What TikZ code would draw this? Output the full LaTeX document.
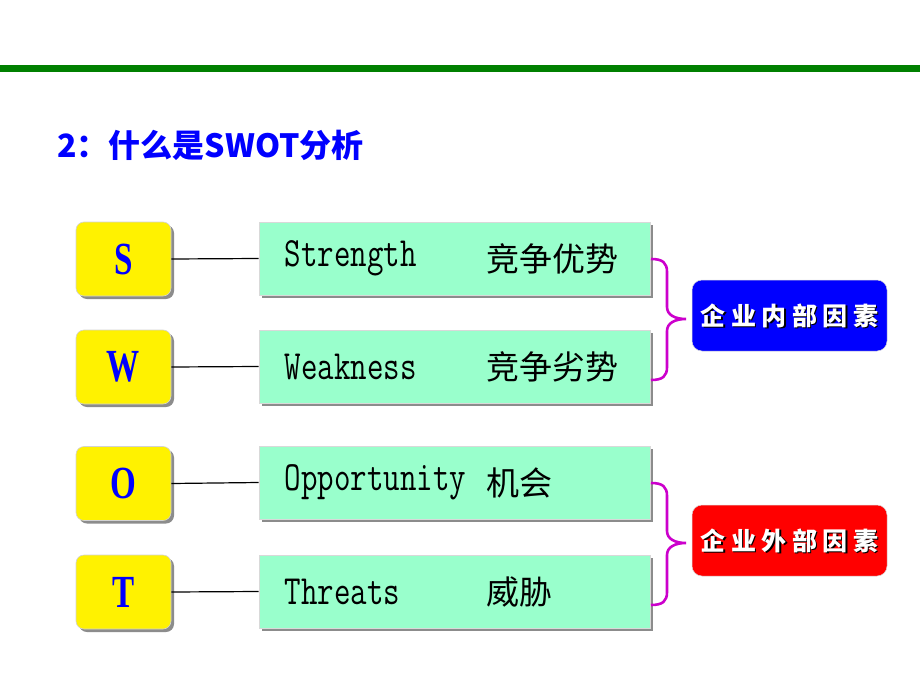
\documentclass[tikz,border=0pt]{standalone}
\usepackage{fontspec}
\newfontfamily\cjk{Noto Sans CJK SC}
\newfontfamily\serf{Liberation Serif}
\usetikzlibrary{shadows}
\definecolor{barGreen}{RGB}{0,128,0}
\definecolor{mint}{RGB}{153,255,204}
\definecolor{braceMag}{RGB}{204,0,204}
\definecolor{shadowGray}{RGB}{140,140,140}
\newcommand{\mono}[1]{\scalebox{1}[1.3]{\ttfamily\fontsize{32}{32}\selectfont #1}}
\newcommand{\spc}{\hspace{5.5pt}}
\begin{document}
\begin{tikzpicture}[x=1pt,y=-1pt,
  letterbox/.style={rounded corners=8pt, fill=yellow, draw=gray!35, line width=0.6pt,
    minimum width=95pt, minimum height=74pt, inner sep=0pt,
    drop shadow={shadow xshift=3pt, shadow yshift=-3pt, fill=shadowGray, opacity=1},
    text=blue, font=\serf\bfseries\fontsize{46}{46}\selectfont},
  itembox/.style={fill=mint, draw=gray!30, line width=0.6pt,
    minimum width=391pt, minimum height=73pt, inner sep=0pt,
    drop shadow={shadow xshift=3pt, shadow yshift=-3pt, fill=shadowGray, opacity=1}},
  latin/.style={anchor=west, inner sep=0pt, text=black},
  hanzi/.style={anchor=west, inner sep=0pt, text=black, font=\cjk\fontsize{33}{33}\selectfont},
  conn/.style={draw=black, line width=1.2pt},
  brace/.style={draw=braceMag, line width=2.6pt},
  labbox/.style={rounded corners=10pt, minimum width=195pt, minimum height=71pt, inner sep=0pt, draw=gray!30, line width=0.5pt},
  labtext/.style={inner sep=0pt, text=white, font=\cjk\bfseries\fontsize{25}{25}\selectfont}
]
\useasboundingbox (0,0) rectangle (920,690);
\fill[white] (0,0) rectangle (920,690);
\fill[barGreen] (0,65) rectangle (920,72);

% title
\node[anchor=west, inner sep=0pt, text=blue, font=\cjk\bfseries\fontsize{32}{32}\selectfont] (title) at (57,145) {2：什么是SWOT分析};

% letter boxes
\node[letterbox] (S) at (123.5,259) {\scalebox{0.72}[1]{S}};
\node[letterbox] (W) at (123.5,367) {\scalebox{0.72}[1]{W}};
\node[letterbox] (O) at (123.5,483.5) {\scalebox{0.72}[1]{O}};
\node[letterbox] (T) at (123.5,592) {\scalebox{0.72}[1]{T}};

% item boxes
\node[itembox] (Sb) at (454.5,258.5) {};
\node[itembox] (Wb) at (454.5,366.5) {};
\node[itembox] (Ob) at (454.5,482.5) {};
\node[itembox] (Tb) at (454.5,591.5) {};

\node[latin] (St) at ([xshift=26pt]Sb.west) {\mono{Strength}};
\node[latin] (Wt) at ([xshift=26pt]Wb.west) {\mono{Weakness}};
\node[latin] (Ot) at ([xshift=26pt]Ob.west) {\mono{Opportunity}};
\node[latin] (Tt) at ([xshift=26pt]Tb.west) {\mono{Threats}};
\node[hanzi] (Sc) at ([xshift=228pt]Sb.west) {竞争优势};
\node[hanzi] (Wc) at ([xshift=228pt]Wb.west) {竞争劣势};
\node[hanzi] (Oc) at ([xshift=228pt]Ob.west) {机会};
\node[hanzi] (Tc) at ([xshift=228pt]Tb.west) {威胁};

% connectors
\draw[conn] (S.east) -- (Sb.west);
\draw[conn] (W.east) -- (Wb.west);
\draw[conn] (O.east) -- (Ob.west);
\draw[conn] (T.east) -- (Tb.west);

% braces
\draw[brace] (651,259) .. controls (663,259) and (667,263) .. (667,272) -- (667,307)
  .. controls (667,315) and (675,319) .. (686,319)
  .. controls (675,319) and (667,323) .. (667,331) -- (667,367)
  .. controls (667,376) and (663,380) .. (651,380);
\draw[brace] (651,483) .. controls (663,483) and (667,487) .. (667,496) -- (667,531)
  .. controls (667,539) and (675,543) .. (686,543)
  .. controls (675,543) and (667,547) .. (667,555) -- (667,592)
  .. controls (667,601) and (663,605) .. (651,605);

% factor boxes
\node[labbox, fill=blue] (int) at (789.5,315.5) {};
\node[labtext, text=black] at ([xshift=1.5pt,yshift=-1.5pt]int.center) {企\spc 业\spc 内\spc 部\spc 因\spc 素};
\node[labtext] (intt) at (int.center) {企\spc 业\spc 内\spc 部\spc 因\spc 素};
\node[labbox, fill=red] (ext) at (789.5,540.5) {};
\node[labtext, text=black] at ([xshift=1.5pt,yshift=-1.5pt]ext.center) {企\spc 业\spc 外\spc 部\spc 因\spc 素};
\node[labtext] (extt) at (ext.center) {企\spc 业\spc 外\spc 部\spc 因\spc 素};
\end{tikzpicture}
\end{document}
